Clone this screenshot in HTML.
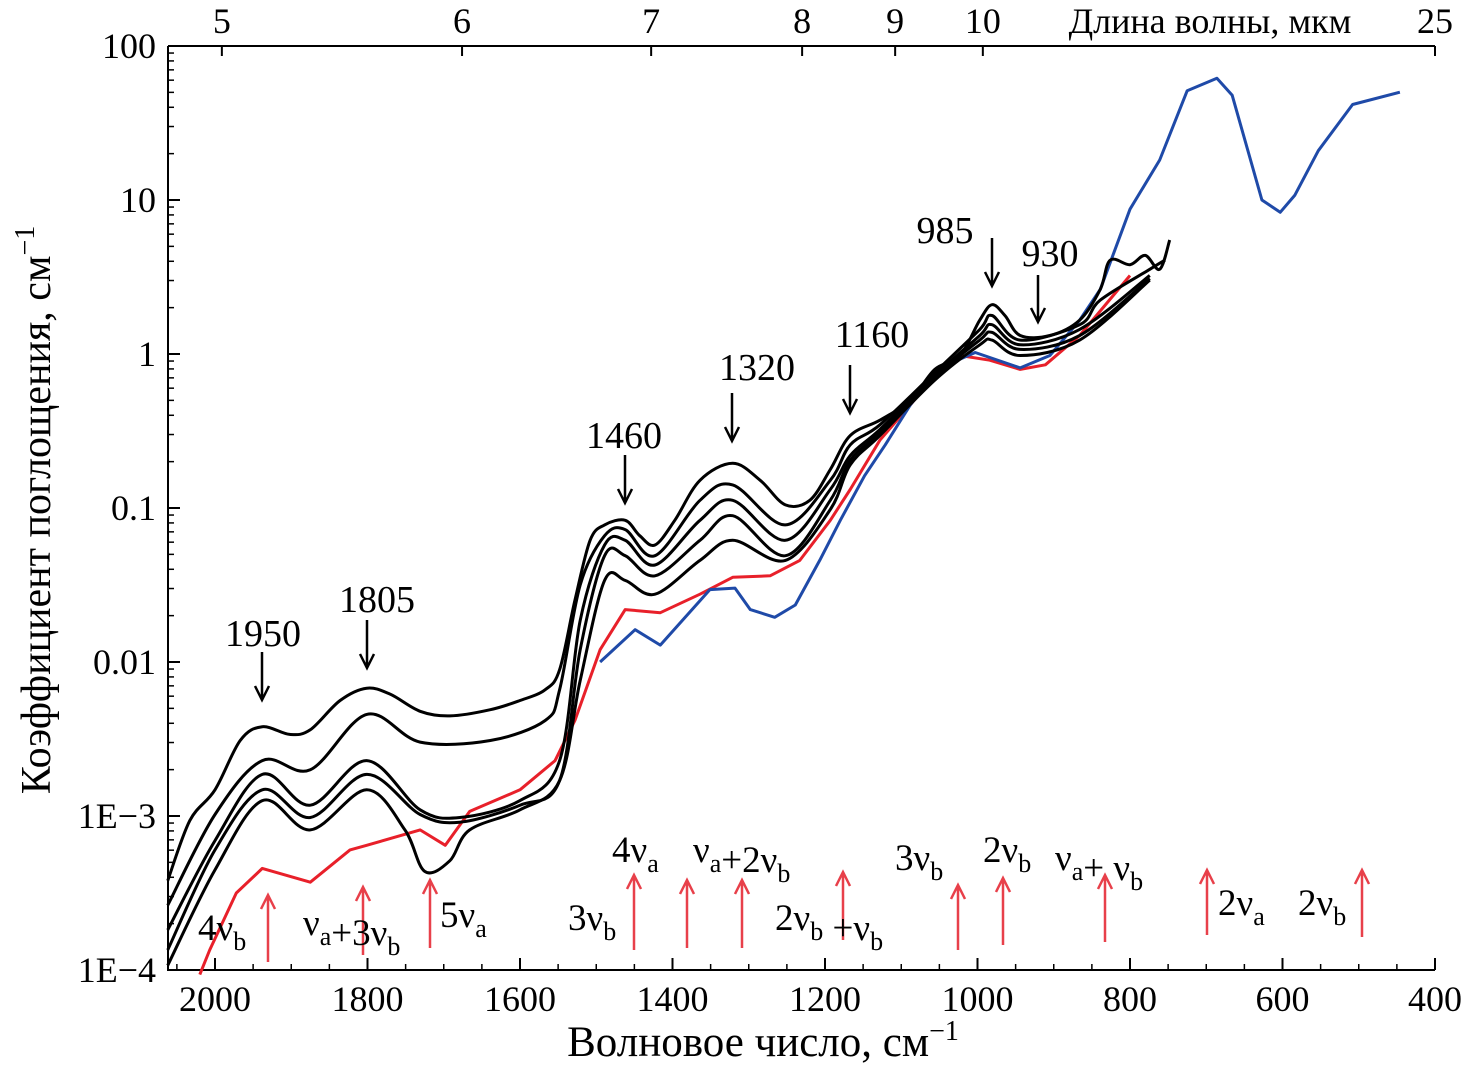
<!DOCTYPE html>
<html><head><meta charset="utf-8"><style>
html,body{margin:0;padding:0;background:#fff;}
svg{display:block;font-family:"Liberation Serif",serif;}
</style></head><body>
<svg id="chart" width="1465" height="1070" viewBox="0 0 1465 1070" xmlns="http://www.w3.org/2000/svg">
<g id="axes"></g>
<g id="series"></g>
<g id="ann"></g>
</svg>
<script>
// wavenumber (cm-1) and log10 of absorption coefficient
const wA=[2062,2033,2000,1967,1938,1902,1875,1836,1801,1770,1731,1692,1639,1600,1567,1548,1528,1508,1489,1462,1443,1423,1397,1364,1321,1285,1252,1220,1193,1167,1128,1088,1056,1023,997,981,964,944,905,866,839,826,800,780,761,748];
const lgA=[-3.42,-3.03,-2.83,-2.51,-2.42,-2.47,-2.44,-2.25,-2.17,-2.21,-2.32,-2.35,-2.31,-2.25,-2.18,-2.05,-1.60,-1.21,-1.11,-1.08,-1.18,-1.24,-1.08,-0.82,-0.71,-0.82,-0.98,-0.95,-0.75,-0.53,-0.43,-0.30,-0.10,-0.01,0.22,0.32,0.25,0.12,0.12,0.22,0.42,0.61,0.58,0.64,0.55,0.74];
const wB=[2062,2000,1938,1875,1801,1731,1639,1567,1548,1521,1489,1462,1423,1364,1321,1252,1193,1167,1128,1056,997,981,944,866,839,774,754];
const lgB=[-3.58,-2.99,-2.64,-2.70,-2.34,-2.52,-2.51,-2.38,-2.18,-1.50,-1.18,-1.14,-1.31,-0.95,-0.85,-1.11,-0.82,-0.59,-0.46,-0.12,0.16,0.25,0.09,0.19,0.35,0.55,0.61];
const wC=[2062,2000,1938,1875,1801,1731,1679,1600,1548,1521,1489,1462,1423,1364,1321,1252,1193,1167,1128,1056,997,981,944,866,774];
const lgC=[-3.74,-3.16,-2.73,-2.93,-2.64,-2.96,-3.01,-2.90,-2.64,-1.73,-1.24,-1.21,-1.37,-1.08,-0.95,-1.21,-0.88,-0.66,-0.49,-0.14,0.12,0.19,0.06,0.16,0.51];
const lgD=[-3.87,-3.22,-2.83,-3.01,-2.73,-2.99,-3.04,-2.93,-2.77,-1.92,-1.31,-1.31,-1.44,-1.21,-1.05,-1.31,-0.95,-0.69,-0.51,-0.15,0.09,0.14,0.03,0.12,0.49];
const wE=[2062,2000,1938,1875,1801,1751,1725,1692,1666,1600,1548,1521,1489,1462,1423,1364,1321,1252,1193,1167,1128,1056,997,981,944,866,774];
const lgE=[-3.97,-3.35,-2.90,-3.09,-2.83,-3.09,-3.36,-3.29,-3.09,-2.96,-2.77,-2.12,-1.47,-1.47,-1.56,-1.34,-1.21,-1.34,-1.01,-0.72,-0.53,-0.17,0.06,0.09,-0.01,0.09,0.48];
const wRed=[2020,2007,1972,1938,1875,1823,1801,1731,1698,1666,1600,1554,1528,1495,1462,1416,1364,1321,1272,1233,1193,1167,1128,1088,1056,1023,984,944,911,866,800];
const lgRed=[-4.03,-3.87,-3.50,-3.34,-3.43,-3.22,-3.19,-3.09,-3.19,-2.97,-2.83,-2.64,-2.38,-1.92,-1.66,-1.68,-1.56,-1.45,-1.44,-1.34,-1.08,-0.88,-0.56,-0.33,-0.14,-0.01,-0.04,-0.10,-0.07,0.12,0.51];
const wBlue=[1495,1449,1416,1351,1318,1298,1266,1239,1207,1180,1148,1121,1088,1049,1003,944,905,866,839,800,761,725,686,666,627,603,584,553,508,446];
const lgBlue=[-2.00,-1.79,-1.89,-1.53,-1.52,-1.66,-1.71,-1.63,-1.34,-1.08,-0.79,-0.59,-0.33,-0.09,0.01,-0.09,-0.01,0.22,0.42,0.94,1.26,1.71,1.79,1.68,1.00,0.92,1.03,1.32,1.62,1.70];
const xTicks=[2000,1800,1600,1400,1200,1000,800,600,400];
const yTicks=[2,1,0,-1,-2,-3,-4];
const yLabels=["100","10","1","0.1","0.01","1E\u22123","1E\u22124"];
const topTicks=[5,6,7,8,9,10,25];
const topTickWn=[1991,1676,1428,1230,1108,993,400];

const X0=168,X1=1435,Y0=46,Y1=970;
const xs=w=>215+(2000-w)*0.7625;
const ys=l=>354-l*154;
const NS="http://www.w3.org/2000/svg";
function mk(tag,attrs,parent){const e=document.createElementNS(NS,tag);for(const k in attrs)e.setAttribute(k,attrs[k]);parent.appendChild(e);return e;}
const axes=document.getElementById('axes'),ser=document.getElementById('series'),ann=document.getElementById('ann');

let a=mk('path',{d:`M${X0},${Y0}H${X1}M${X0},${Y0}V${Y1}H${X1}`,stroke:'#000','stroke-width':2,fill:'none'},axes);


xTicks.forEach(t=>{const x=xs(t);
 let l=mk('line',{x1:x,x2:x,y1:Y1,y2:Y1-12,stroke:'#000','stroke-width':2},axes);
 
 
 let tx=mk('text',{x:x,y:1011,'font-size':36,'text-anchor':'middle'},axes);tx.textContent=t;
 
 
});
for(let t=2050;t>400;t-=50){if(t%200==0)continue;const x=xs(t);if(x<X0)continue;
 let l=mk('line',{x1:x,x2:x,y1:Y1,y2:Y1-6,stroke:'#000','stroke-width':1.5},axes);
 
 }
yTicks.forEach((t,i)=>{const y=ys(t);
 let l=mk('line',{x1:X0,x2:X0+12,y1:y,y2:y,stroke:'#000','stroke-width':2},axes);
 
 
 let tx=mk('text',{x:156,y:y+12,'font-size':36,'text-anchor':'end'},axes);tx.textContent=yLabels[i];
 
 
 if(t>-4)for(let m=2;m<10;m++){const ym=ys(t-1+Math.log10(m));
  let ml=mk('line',{x1:X0,x2:X0+6,y1:ym,y2:ym,stroke:'#000','stroke-width':1.5},axes);
  
  }
});
topTicks.forEach((t,i)=>{const x=xs(topTickWn[i]);
 let l=mk('line',{x1:x,x2:x,y1:Y0,y2:Y0+10,stroke:'#000','stroke-width':2},axes);
 
 
 let tx=mk('text',{x:x,y:33,'font-size':36,'text-anchor':'middle'},axes);tx.textContent=t;
 
 
});
let tt=mk('text',{x:1210,y:33,'font-size':36,'text-anchor':'middle'},axes);tt.textContent='Длина волны, мкм';


let xt=mk('text',{x:763,y:1056,'font-size':43,'text-anchor':'middle'},axes);xt.innerHTML='Волновое число, см<tspan dy="-16" font-size="28">\u22121</tspan>';


let yt=mk('text',{x:0,y:0,'font-size':42,'text-anchor':'middle',transform:'translate(50,510) rotate(-90)'},axes);yt.innerHTML='Коэффициент поглощения, см<tspan dy="-16" font-size="28">\u22121</tspan>';



function line(w,lg,color,name,smooth){const P=w.map((v,i)=>[xs(v),ys(lg[i])]);
 let d='M'+P[0][0].toFixed(1)+','+P[0][1].toFixed(1);
 for(let i=0;i<P.length-1;i++){
  if(!smooth){d+='L'+P[i+1][0].toFixed(1)+','+P[i+1][1].toFixed(1);continue;}
  const p0=P[Math.max(0,i-1)],p1=P[i],p2=P[i+1],p3=P[Math.min(P.length-1,i+2)];
  const c1=[p1[0]+(p2[0]-p0[0])/6,p1[1]+(p2[1]-p0[1])/6],c2=[p2[0]-(p3[0]-p1[0])/6,p2[1]-(p3[1]-p1[1])/6];
  d+=`C${c1[0].toFixed(1)},${c1[1].toFixed(1)} ${c2[0].toFixed(1)},${c2[1].toFixed(1)} ${p2[0].toFixed(1)},${p2[1].toFixed(1)}`;}
 const p=mk('path',{d:d,stroke:color,'stroke-width':3,fill:'none','stroke-linejoin':'round'},ser);
 
 }
line(wRed,lgRed,'#e8202a','red-spectrum',false);
line(wBlue,lgBlue,'#1f4aa8','blue-spectrum',false);
line(wA,lgA,'#000','black-spectrum-1',true);
line(wB,lgB,'#000','black-spectrum-2',true);
line(wC,lgC,'#000','black-spectrum-3',true);
line(wC,lgD,'#000','black-spectrum-4',true);
line(wE,lgE,'#000','black-spectrum-5',true);

const blk=[[1950,263,646,262,652,700],[1805,377,612,367,620,668],[1460,624,448,625,455,503],[1320,757,380,732,393,441],[1160,872,347,850,365,413],[985,945,243,992,238,286],[930,1050,266,1038,275,322]];
blk.forEach(b=>{let t=mk('text',{x:b[1],y:b[2],'font-size':38,'text-anchor':'middle'},ann);t.textContent=b[0];
 
 
 let l=mk('path',{d:`M${b[3]},${b[4]}V${b[5]}M${b[3]-7},${b[5]-14}L${b[3]},${b[5]}L${b[3]+7},${b[5]-14}`,stroke:'#000','stroke-width':2.5,fill:'none'},ann);
 
 });
const red=[[268,895,962],[363,887,955],[430,880,948],[634,875,950],[687,880,948],[742,880,948],[843,872,940],[958,885,950],[1003,878,945],[1105,875,942],[1207,870,935],[1362,870,937]];
red.forEach(r=>{let l=mk('path',{d:`M${r[0]},${r[2]}V${r[1]}M${r[0]-7},${r[1]+14}L${r[0]},${r[1]}L${r[0]+7},${r[1]+14}`,stroke:'#e8404a','stroke-width':2.5,fill:'none'},ann);
 
 });
const sub=(a,b)=>`${a}<tspan dy="10" font-size="26">${b}</tspan><tspan dy="-10"></tspan>`;
const labs=[[198,940,sub('4ν','b')],[303,935,sub('ν','a')+'+'+sub('3ν','b')],[440,927,sub('5ν','a')],[568,930,sub('3ν','b')],[612,862,sub('4ν','a')],[693,862,sub('ν','a')+'+'+sub('2ν','b')],[775,930,sub('2ν','b')+' +'+sub('ν','b')],[895,870,sub('3ν','b')],[983,862,sub('2ν','b')],[1055,870,sub('ν','a')+'+ '+sub('ν','b')],[1218,915,sub('2ν','a')],[1298,915,sub('2ν','b')]];
labs.forEach(l=>{let t=mk('text',{x:l[0],y:l[1],'font-size':37},ann);t.innerHTML=l[2];
 
 });
</script>
</body></html>
